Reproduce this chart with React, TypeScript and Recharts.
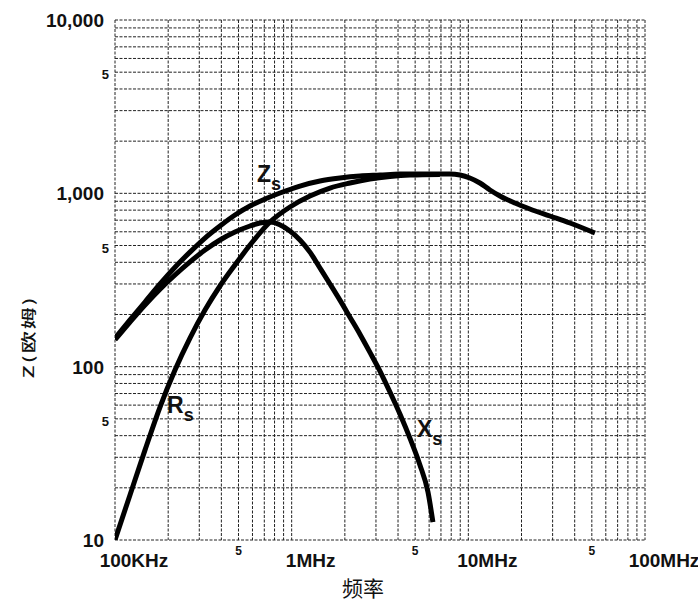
import React from "react"
import { LineChart, Line, XAxis, YAxis, CartesianGrid, ReferenceDot } from "recharts"

// frequency in MHz, impedance in ohms
const zsFreq = [0.1, 0.1216, 0.1478, 0.1798, 0.2186, 0.2657, 0.3231, 0.3928, 0.4776, 0.5808, 0.7062, 0.8585, 1.114, 1.446, 1.876, 2.435, 3.16, 4.1, 7.87, 8.97, 10.2, 11.63, 13.25, 15.1, 18.35, 22.3, 28.96, 37.6, 52.1]
const zsOhm = [146, 186, 236, 300, 375, 458, 552, 648, 750, 845, 927, 1004, 1102, 1178, 1226, 1259, 1275, 1292, 1292, 1275, 1226, 1147, 1045, 965, 879, 812, 740, 674, 590]

const xsFreq = [0.1, 0.1216, 0.1478, 0.1798, 0.2186, 0.2657, 0.3231, 0.3928, 0.4776, 0.5808, 0.661, 0.754, 0.978, 1.114, 1.269, 1.446, 1.648, 1.876, 2.138, 2.435, 2.774, 3.16, 3.6, 4.1, 4.67, 5.32, 5.91, 6.3]
const xsOhm = [143, 181, 227, 280, 338, 402, 471, 538, 598, 648, 674, 683, 606, 538, 458, 371, 300, 242, 193, 154, 121, 94.3, 71.4, 53.3, 38.7, 27.1, 18.9, 12.7]

const rsFreq = [0.1, 0.1216, 0.1478, 0.1798, 0.2186, 0.2657, 0.3231, 0.3928, 0.4776, 0.5808, 0.754, 0.978, 1.269, 1.648, 2.138, 2.774, 3.6, 4.67, 6.9]
const rsOhm = [10, 18.2, 33, 58.5, 95.6, 146, 212, 292, 386, 503, 683, 834, 965, 1073, 1147, 1209, 1250, 1275, 1285]

// log grid: 1..9 in every decade
const xDecades = [0.1, 1, 10]
const yDecades = [10, 100, 1000]
const gridSteps = [1, 2, 3, 4, 5, 6, 7, 8, 9]

const xLabelValues = [0.1, 0.5, 1, 5, 10, 50, 100]
const xLabelTexts = ["100KHz", "5", "1MHz", "5", "10MHz", "5", "100MHz"]
const yLabelValues = [10, 50, 100, 500, 1000, 5000, 10000]
const yLabelTexts = ["10", "5", "100", "5", "1,000", "5", "10,000"]

// curve names, placed in data space
const tagNames = ["Z", "R", "X"]
const tagFreq = [0.636, 0.197, 5.12]
const tagOhm = [1162, 54, 39.2]

const xTicks = [...xDecades.flatMap((d) => gridSteps.map((s) => d * s)), 100]
const yTicks = [...yDecades.flatMap((d) => gridSteps.map((s) => d * s)), 10000]

const toPoints = (freq: number[], ohm: number[]) => freq.map((f, i) => ({ f, ohm: ohm[i] }))
const zsData = toPoints(zsFreq, zsOhm)
const xsData = toPoints(xsFreq, xsOhm)
const rsData = toPoints(rsFreq, rsOhm)

const FONT = '"Liberation Sans", Arial, sans-serif'
const CJK = '"Noto Sans CJK SC", sans-serif'

const findLabel = (values: number[], texts: string[], v: number) => {
  const i = values.findIndex((x) => Math.abs(x - v) < x * 1e-6)
  return i < 0 ? null : texts[i]
}

function XTick({ x, y, payload }: any) {
  const text = findLabel(xLabelValues, xLabelTexts, payload.value)
  if (!text) return <g />
  const small = text === "5"
  return (
    <text
      x={small ? x : x + 19}
      y={small ? y + 15 : y + 27}
      textAnchor="middle"
      fontFamily={FONT}
      fontWeight={700}
      fontSize={small ? 12 : 19}
      fill="#111"
    >
      {text}
    </text>
  )
}

function YTick({ x, y, payload }: any) {
  const text = findLabel(yLabelValues, yLabelTexts, payload.value)
  if (!text) return <g />
  const small = text === "5"
  return (
    <text
      x={small ? x - 6 : x - 11}
      y={small ? y + 7 : y + 7}
      textAnchor="end"
      fontFamily={FONT}
      fontWeight={700}
      fontSize={small ? 13 : 19}
      fill="#111"
    >
      {text}
    </text>
  )
}

const XTitle = ({ viewBox }: any) => (
  <text
    x={viewBox.x + viewBox.width / 2 - 17}
    y={viewBox.y + 56}
    textAnchor="middle"
    fontFamily={CJK}
    fontSize={21}
    fill="#111"
  >
    频率
  </text>
)

const YTitle = ({ viewBox }: any) => (
  <text
    transform={`translate(${viewBox.x + 27},${viewBox.y + viewBox.height / 2 + 57}) rotate(-90) scale(1,0.66)`}
    textAnchor="middle"
    dominantBaseline="central"
    fontFamily={CJK}
    fontSize={22}
    fontWeight={500}
    letterSpacing={2}
    fill="#111"
  >
    Z(欧姆)
  </text>
)

const makeTag = (name: string) => (p: any) => (
  <text x={p.cx} y={p.cy} fontFamily={FONT} fontWeight={700} fontSize={23} fill="#111">
    {name}
    <tspan fontSize={18} dy={8}>s</tspan>
  </text>
)

export default function App() {
  return (
    <div style={{ position: "absolute", left: 0, top: 0, background: "#fff" }}>
      <LineChart width={698} height={604} margin={{ top: 20, right: 53, bottom: 0, left: 0 }}>
        <CartesianGrid stroke="#222" strokeDasharray="3 1.5" strokeWidth={1} />
        <XAxis
          dataKey="f"
          type="number"
          scale="log"
          domain={[0.1, 100]}
          allowDataOverflow
          ticks={xTicks}
          interval={0}
          tickSize={0}
          tickMargin={0}
          axisLine={false}
          tickLine={false}
          height={64}
          tick={<XTick />}
          label={<XTitle />}
        />
        <YAxis
          type="number"
          scale="log"
          domain={[10, 10000]}
          allowDataOverflow
          ticks={yTicks}
          interval={0}
          tickSize={0}
          tickMargin={0}
          axisLine={false}
          tickLine={false}
          width={115}
          tick={<YTick />}
          label={<YTitle />}
        />

        <Line data={zsData} dataKey="ohm" type="monotone" stroke="#000" strokeWidth={5} dot={false} isAnimationActive={false} />
        <Line data={xsData} dataKey="ohm" type="monotone" stroke="#000" strokeWidth={5} dot={false} isAnimationActive={false} />
        <Line data={rsData} dataKey="ohm" type="monotone" stroke="#000" strokeWidth={5} dot={false} isAnimationActive={false} />

        {tagNames.map((name, i) => (
          <ReferenceDot key={name} x={tagFreq[i]} y={tagOhm[i]} r={0} shape={makeTag(name)} />
        ))}
      </LineChart>
    </div>
  )
}
